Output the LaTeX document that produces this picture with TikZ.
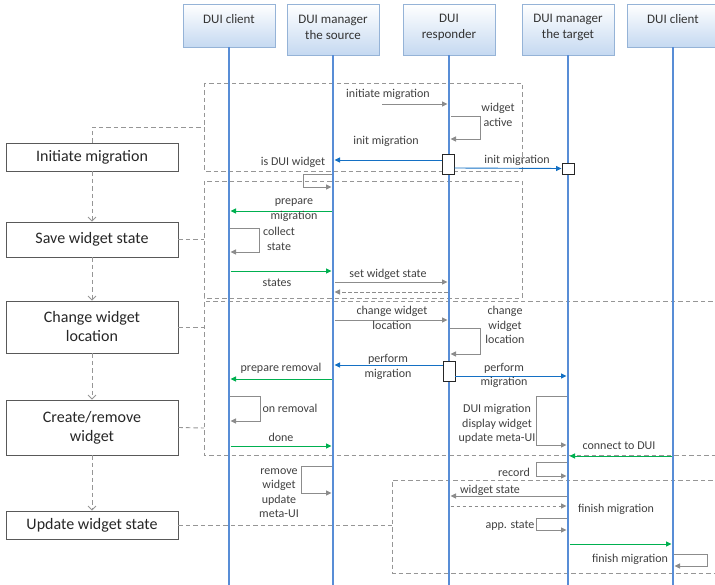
\documentclass[tikz,border=0pt]{standalone}
\usepackage{fontspec}
\setmainfont{Carlito}
\usetikzlibrary{arrows.meta,shadows}
\definecolor{lifeblue}{RGB}{88,141,214}
\definecolor{hdrfill}{RGB}{197,217,241}
\definecolor{hdrline}{RGB}{149,179,215}
\definecolor{msggray}{RGB}{140,140,140}
\definecolor{msgblue}{RGB}{20,112,196}
\definecolor{msggreen}{RGB}{0,176,80}
\definecolor{framegray}{RGB}{150,150,150}
\definecolor{txtgray}{RGB}{64,64,64}
\begin{document}
\begin{tikzpicture}[x=1pt,y=-1pt,
  hdr/.style={draw=hdrline, top color=white, bottom color=hdrfill, minimum width=92, inner sep=0,
    drop shadow={opacity=0.25, shadow xshift=1.2pt, shadow yshift=-1.2pt}},
  hdrtxt/.style={font=\fontsize{13}{16}\selectfont, text=txtgray!80!black, align=center, inner sep=0},
  proc/.style={draw=black!65, line width=0.6pt, minimum width=172, align=center, inner sep=0,
    font=\fontsize{16}{19}\selectfont, text=black!85},
  life/.style={draw=lifeblue, line width=2.3pt},
  lbl/.style={font=\fontsize{12}{14.5}\selectfont, text=txtgray, align=center, inner sep=0},
  tip/.style={-{Triangle[length=5.5pt,width=5pt]}},
  gmsg/.style={tip, draw=msggray, line width=0.9pt},
  bmsg/.style={tip, draw=msgblue, line width=0.9pt},
  grmsg/.style={tip, draw=msggreen, line width=0.9pt},
  dmsg/.style={gmsg, dash pattern=on 3.5pt off 2.5pt},
  act/.style={draw=black!85, fill=white, line width=0.9pt, minimum width=12, inner sep=0},
  frm/.style={draw=framegray, line width=0.9pt, dash pattern=on 4.5pt off 3pt},
  flowln/.style={draw=framegray, line width=0.9pt, dash pattern=on 4.5pt off 3pt},
  flowarr/.style={flowln, -{Straight Barb[length=4pt,width=8pt]}}
]
\useasboundingbox (0,0) rectangle (715,585);
\def\LA{229}\def\LB{333}\def\LC{449}\def\LD{568}\def\LE{673}

% process boxes
\node[proc, minimum height=28] (p1) at (92,157) {Initiate migration};
\node[proc, minimum height=35] (p2) at (92,239.5) {Save widget state};
\node[proc, minimum height=52] (p3) at (92,327) {Change widget\\location};
\node[proc, minimum height=55] (p4) at (92,427.5) {Create/remove\\widget};
\node[proc, minimum height=28] (p5) at (92,525) {Update widget state};

% frames
\coordinate (f1w) at (204,127);
\coordinate (f2w) at (204,239.5);
\coordinate (f3w) at (204,327);
\coordinate (f3bw) at (204,428);
\coordinate (f4w) at (392,525);
\draw[frm] (204,83) rectangle (522,171);
\draw[frm] (204,181) rectangle (522,298);
\draw[frm] (720,301) -- (204,301) -- (204,455) -- (720,455);
\draw[frm] (720,480) -- (392,480) -- (392,573) -- (720,573);

% flow connectors
\draw[flowln] (p1.north) |- (f1w);
\draw[flowarr] (p1) -- (p2);
\draw[flowarr] (p2) -- (p3);
\draw[flowarr] (p3) -- (p4);
\draw[flowarr] (p4) -- (p5);
\draw[flowln] (p2.east) -- (f2w);
\draw[flowln] (p3.east) -- (f3w);
\draw[flowln] (p4.east) -- (f3bw);
\draw[flowln] (p5.east) -- (f4w);

% headers
\node[hdr, minimum height=43] (hA) at (\LA,25.5) {};
\node[hdr, minimum height=51] (hB) at (\LB,29.5) {};
\node[hdr, minimum height=51] (hC) at (\LC,29.5) {};
\node[hdr, minimum height=51] (hD) at (\LD,29.5) {};
\node[hdr, minimum height=43] (hE) at (\LE,25.5) {};
\node[hdrtxt] (tA) at (\LA,19) {DUI client};
\node[hdrtxt] (tB) at (\LB,27) {DUI manager\\the source};
\node[hdrtxt] (tC) at (\LC,27) {DUI\\responder};
\node[hdrtxt] (tD) at (\LD,27) {DUI manager\\the target};
\node[hdrtxt] (tE) at (\LE,19) {DUI client};

% lifelines
\draw[life] (hA.south) -- (hA.south |- 0,585);
\draw[life] (hB.south) -- (hB.south |- 0,585);
\draw[life] (hC.south) -- (hC.south |- 0,585);
\draw[life] (hD.south) -- (hD.south |- 0,585);
\draw[life] (hE.south) -- (hE.south |- 0,585);

% activation boxes
\node[act, minimum height=20] (aR1) at (448,164) {};
\node[act, minimum height=11] (aT1) at (568,168.5) {};
\node[act, minimum height=20] (aR2) at (449,371) {};

% ---- frame 1
\draw[gmsg] (382,104) -- (\LC-1.5,104);
\node[lbl] at (388,94) {initiate migration};
\draw[gmsg] (\LC+2,116) -- (480,116) -- (480,139) -- (\LC+1.5,139);
\node[lbl] at (498,115) {widget\\active};
\draw[bmsg] (aR1.west |- 0,160) -- (\LB+1.5,160);
\node[lbl] at (386,141) {init migration};
\draw[bmsg] (aR1.east |- 0,168) -- (aT1.west);
\node[lbl] at (517,160) {init migration};
\node[lbl] at (293,162) {is DUI widget};
\draw[gmsg] (\LB-1,174) -- (303,174) -- (303,187) -- (\LB-1.5,187);

% ---- frame 2
\draw[grmsg] (\LB-1.5,211) -- (\LA+1.5,211);
\node[lbl] at (294,210) {prepare\\migration};
\draw[gmsg] (\LA+1,228) -- (259,228) -- (259,252) -- (\LA+1.5,252);
\node[lbl] at (279,239) {collect\\state};
\draw[grmsg] (\LA+1.5,271) -- (\LB-1.5,271);
\node[lbl] at (277,283) {states};
\draw[gmsg] (\LB+1.5,282) -- (\LC-1.5,282);
\node[lbl] at (388,274) {set widget state};
\draw[dmsg] (\LC-1.5,292) -- (\LB+1.5,292);

% ---- frame 3
\draw[gmsg] (\LB+1.5,320) -- (\LC-1.5,320);
\node[lbl] at (392,318) {change widget\\location};
\draw[gmsg] (\LC+1,328) -- (480,328) -- (480,354) -- (\LC+1.5,354);
\node[lbl] at (505,325) {change\\widget\\location};
\draw[bmsg] (aR2.west |- 0,365) -- (\LB+1.5,365);
\node[lbl] at (388,367) {perform\\migration};
\draw[grmsg] (\LB-1.5,379) -- (\LA+1.5,379);
\node[lbl] at (281,368) {prepare removal};
\draw[bmsg] (aR2.east |- 0,376) -- (\LD-1.5,376);
\node[lbl] at (504,375.5) {perform\\migration};
\draw[gmsg] (\LA+1,396) -- (260,396) -- (260,421) -- (\LA+1.5,421);
\node[lbl] at (290,408) {on removal};
\draw[grmsg] (\LA+1.5,446) -- (\LB-1.5,446);
\node[lbl] at (281,437) {done};
\draw[gmsg] (\LD-1,396) -- (536,396) -- (536,445) -- (\LD-1.5,445);
\node[lbl] at (497,424) {DUI migration\\display widget\\update meta-UI};
\draw[grmsg] (\LE-1.5,456) -- (\LD+1.5,456);
\node[lbl] at (619,446) {connect to DUI};

% ---- update phase
\draw[gmsg] (\LB-1,466) -- (301,466) -- (301,493) -- (\LB-1.5,493);
\node[lbl] at (279,493) {remove\\widget\\update\\meta-UI};
\draw[gmsg] (\LD-1,462) -- (536,462) -- (536,476) -- (\LD-1.5,476);
\node[lbl] at (514,472) {record};
\draw[gmsg] (\LD-1.5,496) -- (\LC+1.5,496);
\node[lbl] at (490,490) {widget state};
\draw[dmsg] (\LC+1.5,506) -- (\LD-1.5,506);
\node[lbl] at (616,509) {finish migration};
\draw[gmsg] (\LD-1,518) -- (536,518) -- (536,530) -- (\LD-1.5,530);
\node[lbl] at (510,526) {app. state};
\draw[grmsg] (\LD+1.5,544) -- (\LE-1.5,544);
\draw[gmsg] (\LE+1,554) -- (707,554) -- (707,566) -- (\LE+1.5,566);
\node[lbl] at (630,559) {finish migration};
\end{tikzpicture}
\end{document}
